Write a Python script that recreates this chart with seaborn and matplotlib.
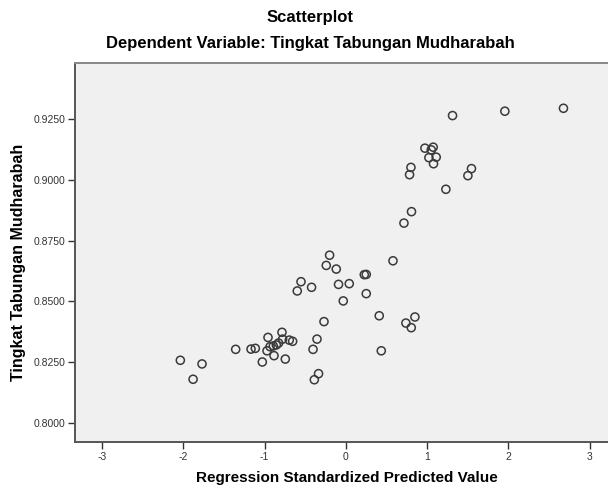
import matplotlib
matplotlib.use("Agg")
import matplotlib.pyplot as plt
import seaborn as sns
import pandas as pd

predicted = [
    -2.036, -1.769, -1.879, -1.355, -1.166, -1.113, -1.027, -0.957, -0.969, -0.932,
    -0.892, -0.855, -0.827, -0.785, -0.777, -0.883, -0.744, -0.695, -0.654, -0.597,
    -0.551, -0.421, -0.403, -0.354, -0.335, -0.387, -0.268, -0.240, -0.199, -0.117,
    -0.089, -0.031, 0.043, 0.228, 0.252, 0.252, 0.412, 0.437, 0.581, 0.740,
    0.806, 0.851, 0.716, 0.809, 1.232, 0.785, 0.802, 0.974, 1.052, 1.076,
    1.023, 1.113, 1.080, 1.503, 1.547, 1.314, 1.958, 2.679,
]
tabungan = [
    0.8258, 0.8243, 0.8180, 0.8303, 0.8304, 0.8307, 0.8251, 0.8352, 0.8297, 0.8314,
    0.8317, 0.8321, 0.8329, 0.8373, 0.8345, 0.8277, 0.8263, 0.8341, 0.8336, 0.8543,
    0.8581, 0.8558, 0.8303, 0.8345, 0.8203, 0.8178, 0.8417, 0.8648, 0.8690, 0.8633,
    0.8570, 0.8502, 0.8573, 0.8610, 0.8611, 0.8532, 0.8441, 0.8297, 0.8667, 0.8411,
    0.8392, 0.8436, 0.8822, 0.8869, 0.8961, 0.9021, 0.9051, 0.9130, 0.9123, 0.9134,
    0.9091, 0.9093, 0.9066, 0.9017, 0.9046, 0.9264, 0.9282, 0.9294,
]
x_ticks = [-3, -2, -1, 0, 1, 2, 3]
y_ticks = [0.8000, 0.8250, 0.8500, 0.8750, 0.9000, 0.9250]

df = pd.DataFrame({"pred": predicted, "y": tabungan})

sns.set_style("ticks", {"axes.facecolor": "#f0f0f0"})
plt.rcParams["font.family"] = ["Liberation Sans", "DejaVu Sans"]

fig = plt.figure(figsize=(6.08, 4.86), dpi=100)
# axes run slightly past the right edge, as in the reference
ax = fig.add_axes([0.1234, 0.0905, 0.8906, 0.7798])

sns.scatterplot(data=df, x="pred", y="y", ax=ax, s=34,
                facecolors="none", edgecolors="#3a3a3a", linewidths=1.1)

ax.set_xlim(-3.332, 3.332)
ax.set_ylim(0.7922, 0.948)
ax.set_xticks(x_ticks)
ax.set_xticklabels([str(t) for t in x_ticks])
ax.set_yticks(y_ticks)
ax.set_yticklabels([f"{t:.4f}" for t in y_ticks])
ax.tick_params(axis="both", direction="out", length=5, width=1,
               color="#333333", labelsize=7.5, labelcolor="#333333", pad=2)

for side in ["left", "bottom"]:
    ax.spines[side].set_color("#555555")
    ax.spines[side].set_linewidth(1.4)
ax.spines["top"].set_color("#888888")
ax.spines["top"].set_linewidth(1.4)
ax.spines["right"].set_visible(False)

ax.set_xlabel("")
ax.set_ylabel("")
fig.text(0.51, 0.965, "Scatterplot", ha="center", va="center",
         fontsize=12, fontweight="bold", color="black")
fig.text(0.51, 0.91, "Dependent Variable: Tingkat Tabungan Mudharabah",
         ha="center", va="center", fontsize=12, fontweight="bold", color="black")
fig.text(0.57, 0.017, "Regression Standardized Predicted Value",
         ha="center", va="center", fontsize=11, fontweight="bold", color="black")
fig.text(0.03, 0.461, "Tingkat Tabungan Mudharabah", ha="center",
         va="center", rotation=90, fontsize=11.5, fontweight="bold", color="black")

fig.savefig("out.png", dpi=100)
